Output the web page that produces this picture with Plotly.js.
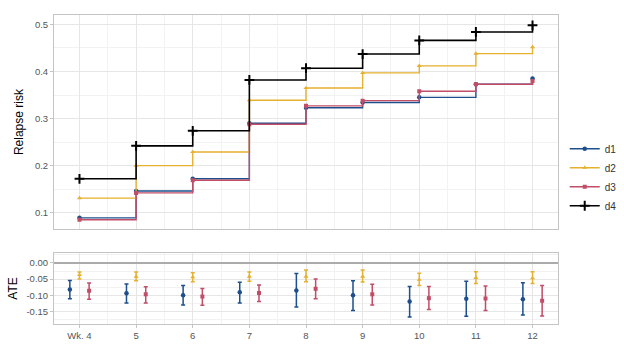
<!DOCTYPE html>
<html>
<head>
<meta charset="utf-8">
<script src="https://cdn.plot.ly/plotly-3.0.1.min.js"></script>
<style>html,body{margin:0;padding:0;background:#fff;}#chart{width:624px;height:351px;}</style>
</head>
<body>
<div id="chart"></div>
<script>
// ---- data ----
const weeks = [4, 5, 6, 7, 8, 9, 10, 11, 12];
const weekLabels = ["Wk. 4", "5", "6", "7", "8", "9", "10", "11", "12"];
const seriesNames = ["d1", "d2", "d3", "d4"];

// Relapse risk (step curves)
const risk_d1 = [0.089, 0.146, 0.172, 0.290, 0.323, 0.334, 0.345, 0.373, 0.385];
const risk_d2 = [0.131, 0.200, 0.229, 0.339, 0.365, 0.397, 0.412, 0.438, 0.452];
const risk_d3 = [0.085, 0.142, 0.169, 0.288, 0.327, 0.338, 0.358, 0.373, 0.380];
const risk_d4 = [0.172, 0.242, 0.274, 0.382, 0.407, 0.437, 0.466, 0.484, 0.498];

// ATE estimates with interval bounds
const ate_d1 = [-0.082, -0.094, -0.100, -0.091, -0.085, -0.100, -0.119, -0.111, -0.112];
const ate_d1_lo = [-0.111, -0.124, -0.130, -0.124, -0.136, -0.147, -0.167, -0.165, -0.161];
const ate_d1_hi = [-0.054, -0.065, -0.070, -0.060, -0.033, -0.055, -0.073, -0.057, -0.061];

const ate_d2 = [-0.037, -0.042, -0.044, -0.042, -0.042, -0.042, -0.052, -0.046, -0.047];
const ate_d2_lo = [-0.050, -0.055, -0.058, -0.057, -0.058, -0.059, -0.070, -0.064, -0.064];
const ate_d2_hi = [-0.028, -0.028, -0.030, -0.028, -0.022, -0.022, -0.032, -0.027, -0.027];

const ate_d3 = [-0.086, -0.097, -0.104, -0.093, -0.080, -0.097, -0.109, -0.110, -0.117];
const ate_d3_lo = [-0.112, -0.124, -0.131, -0.119, -0.111, -0.130, -0.144, -0.147, -0.164];
const ate_d3_hi = [-0.062, -0.074, -0.079, -0.068, -0.050, -0.066, -0.073, -0.071, -0.070];

// ---- styles ----
const colors = ["#1d4f8c", "#e6b030", "#c14d67", "#000000"];
const symbols = ["circle", "triangle-up", "square", "cross-thin-open"];
const FONT = "Liberation Sans, Arial, sans-serif";

const riskSeries = [risk_d1, risk_d2, risk_d3, risk_d4];
const traces = [];
riskSeries.forEach((vals, i) => {
  traces.push({
    type: "scatter", mode: "lines+markers",
    x: weeks, y: vals, name: seriesNames[i],
    line: {shape: "hv", color: colors[i], width: i === 3 ? 1.6 : 1.4},
    marker: i === 3
      ? {symbol: symbols[i], size: 7, color: colors[i], line: {width: 2, color: colors[i]}}
      : {symbol: symbols[i], size: i === 2 ? 4 : 4.5, color: colors[i]},
    xaxis: "x", yaxis: "y", showlegend: true, hoverinfo: "skip"
  });
});

const dodge = [-0.17, 0, 0.17];
const ateSets = [[ate_d1, ate_d1_lo, ate_d1_hi], [ate_d2, ate_d2_lo, ate_d2_hi], [ate_d3, ate_d3_lo, ate_d3_hi]];
ateSets.forEach((s, i) => {
  const [pt, lo, hi] = s;
  traces.push({
    type: "scatter", mode: "markers",
    x: weeks.map(w => w + dodge[i]), y: pt, name: seriesNames[i],
    marker: {symbol: symbols[i], size: i === 2 ? 4 : 4.5, color: colors[i]},
    error_y: {
      type: "data", symmetric: false,
      array: hi.map((h, k) => h - pt[k]),
      arrayminus: pt.map((p, k) => p - lo[k]),
      color: colors[i], thickness: 1.5, width: 2
    },
    xaxis: "x2", yaxis: "y2", showlegend: false, hoverinfo: "skip"
  });
});

const gridMajor = "#e6e6e6";
const gridMinor = "#f2f2f2";
const frame = "#c4c4c4";
const tickFont = {family: FONT, size: 9.5, color: "#555555"};

const xBase = {
  range: [3.55, 12.45], tickvals: weeks, showgrid: true, gridcolor: gridMajor, gridwidth: 1,
  minor: {tick0: 3.5, dtick: 1, showgrid: true, gridcolor: gridMinor, gridwidth: 1, ticks: ""},
  showline: true, mirror: true, linecolor: frame, linewidth: 1, zeroline: false,
  tickfont: tickFont
};

const layout = {
  width: 624, height: 351,
  margin: {l: 54, r: 66, t: 15, b: 27, autoexpand: false},
  paper_bgcolor: "#ffffff", plot_bgcolor: "#ffffff",
  font: {family: FONT},
  showlegend: true,
  legend: {
    xref: "container", x: 0.905, xanchor: "left", y: 0.475, yanchor: "middle",
    font: {family: FONT, size: 10, color: "#333333"},
    tracegroupgap: 0, itemwidth: 30, bgcolor: "rgba(0,0,0,0)"
  },
  xaxis: Object.assign({}, xBase, {anchor: "y", showticklabels: false, ticks: "", matches: "x2"}),
  xaxis2: Object.assign({}, xBase, {anchor: "y2", ticktext: weekLabels, ticks: "outside", ticklen: 3, tickcolor: frame}),
  yaxis: {
    domain: [0.307, 1], anchor: "x", range: [0.065, 0.52],
    tickvals: [0.1, 0.2, 0.3, 0.4, 0.5], ticktext: ["0.1", "0.2", "0.3", "0.4", "0.5"],
    showgrid: true, gridcolor: gridMajor,
    minor: {tick0: 0.05, dtick: 0.1, showgrid: true, gridcolor: gridMinor, ticks: ""},
    showline: true, mirror: true, linecolor: frame, zeroline: false,
    ticks: "outside", ticklen: 3, tickcolor: frame, tickfont: tickFont,
    title: {text: "Relapse risk", font: {family: FONT, size: 12, color: "#000"}, standoff: 8}
  },
  yaxis2: {
    domain: [0, 0.23], anchor: "x2", range: [-0.189, 0.031],
    tickvals: [0, -0.05, -0.1, -0.15], ticktext: ["0.00", "-0.05", "-0.10", "-0.15"],
    showgrid: true, gridcolor: gridMajor,
    minor: {tick0: -0.175, dtick: 0.05, showgrid: true, gridcolor: gridMinor, ticks: ""},
    showline: true, mirror: true, linecolor: frame,
    zeroline: true, zerolinecolor: "#ababab", zerolinewidth: 1.2,
    ticks: "outside", ticklen: 3, tickcolor: frame, tickfont: tickFont,
    title: {text: "ATE", font: {family: FONT, size: 12, color: "#000"}, standoff: 6}
  }
};

Plotly.newPlot("chart", traces, layout, {displayModeBar: false, staticPlot: true});
</script>
</body>
</html>
